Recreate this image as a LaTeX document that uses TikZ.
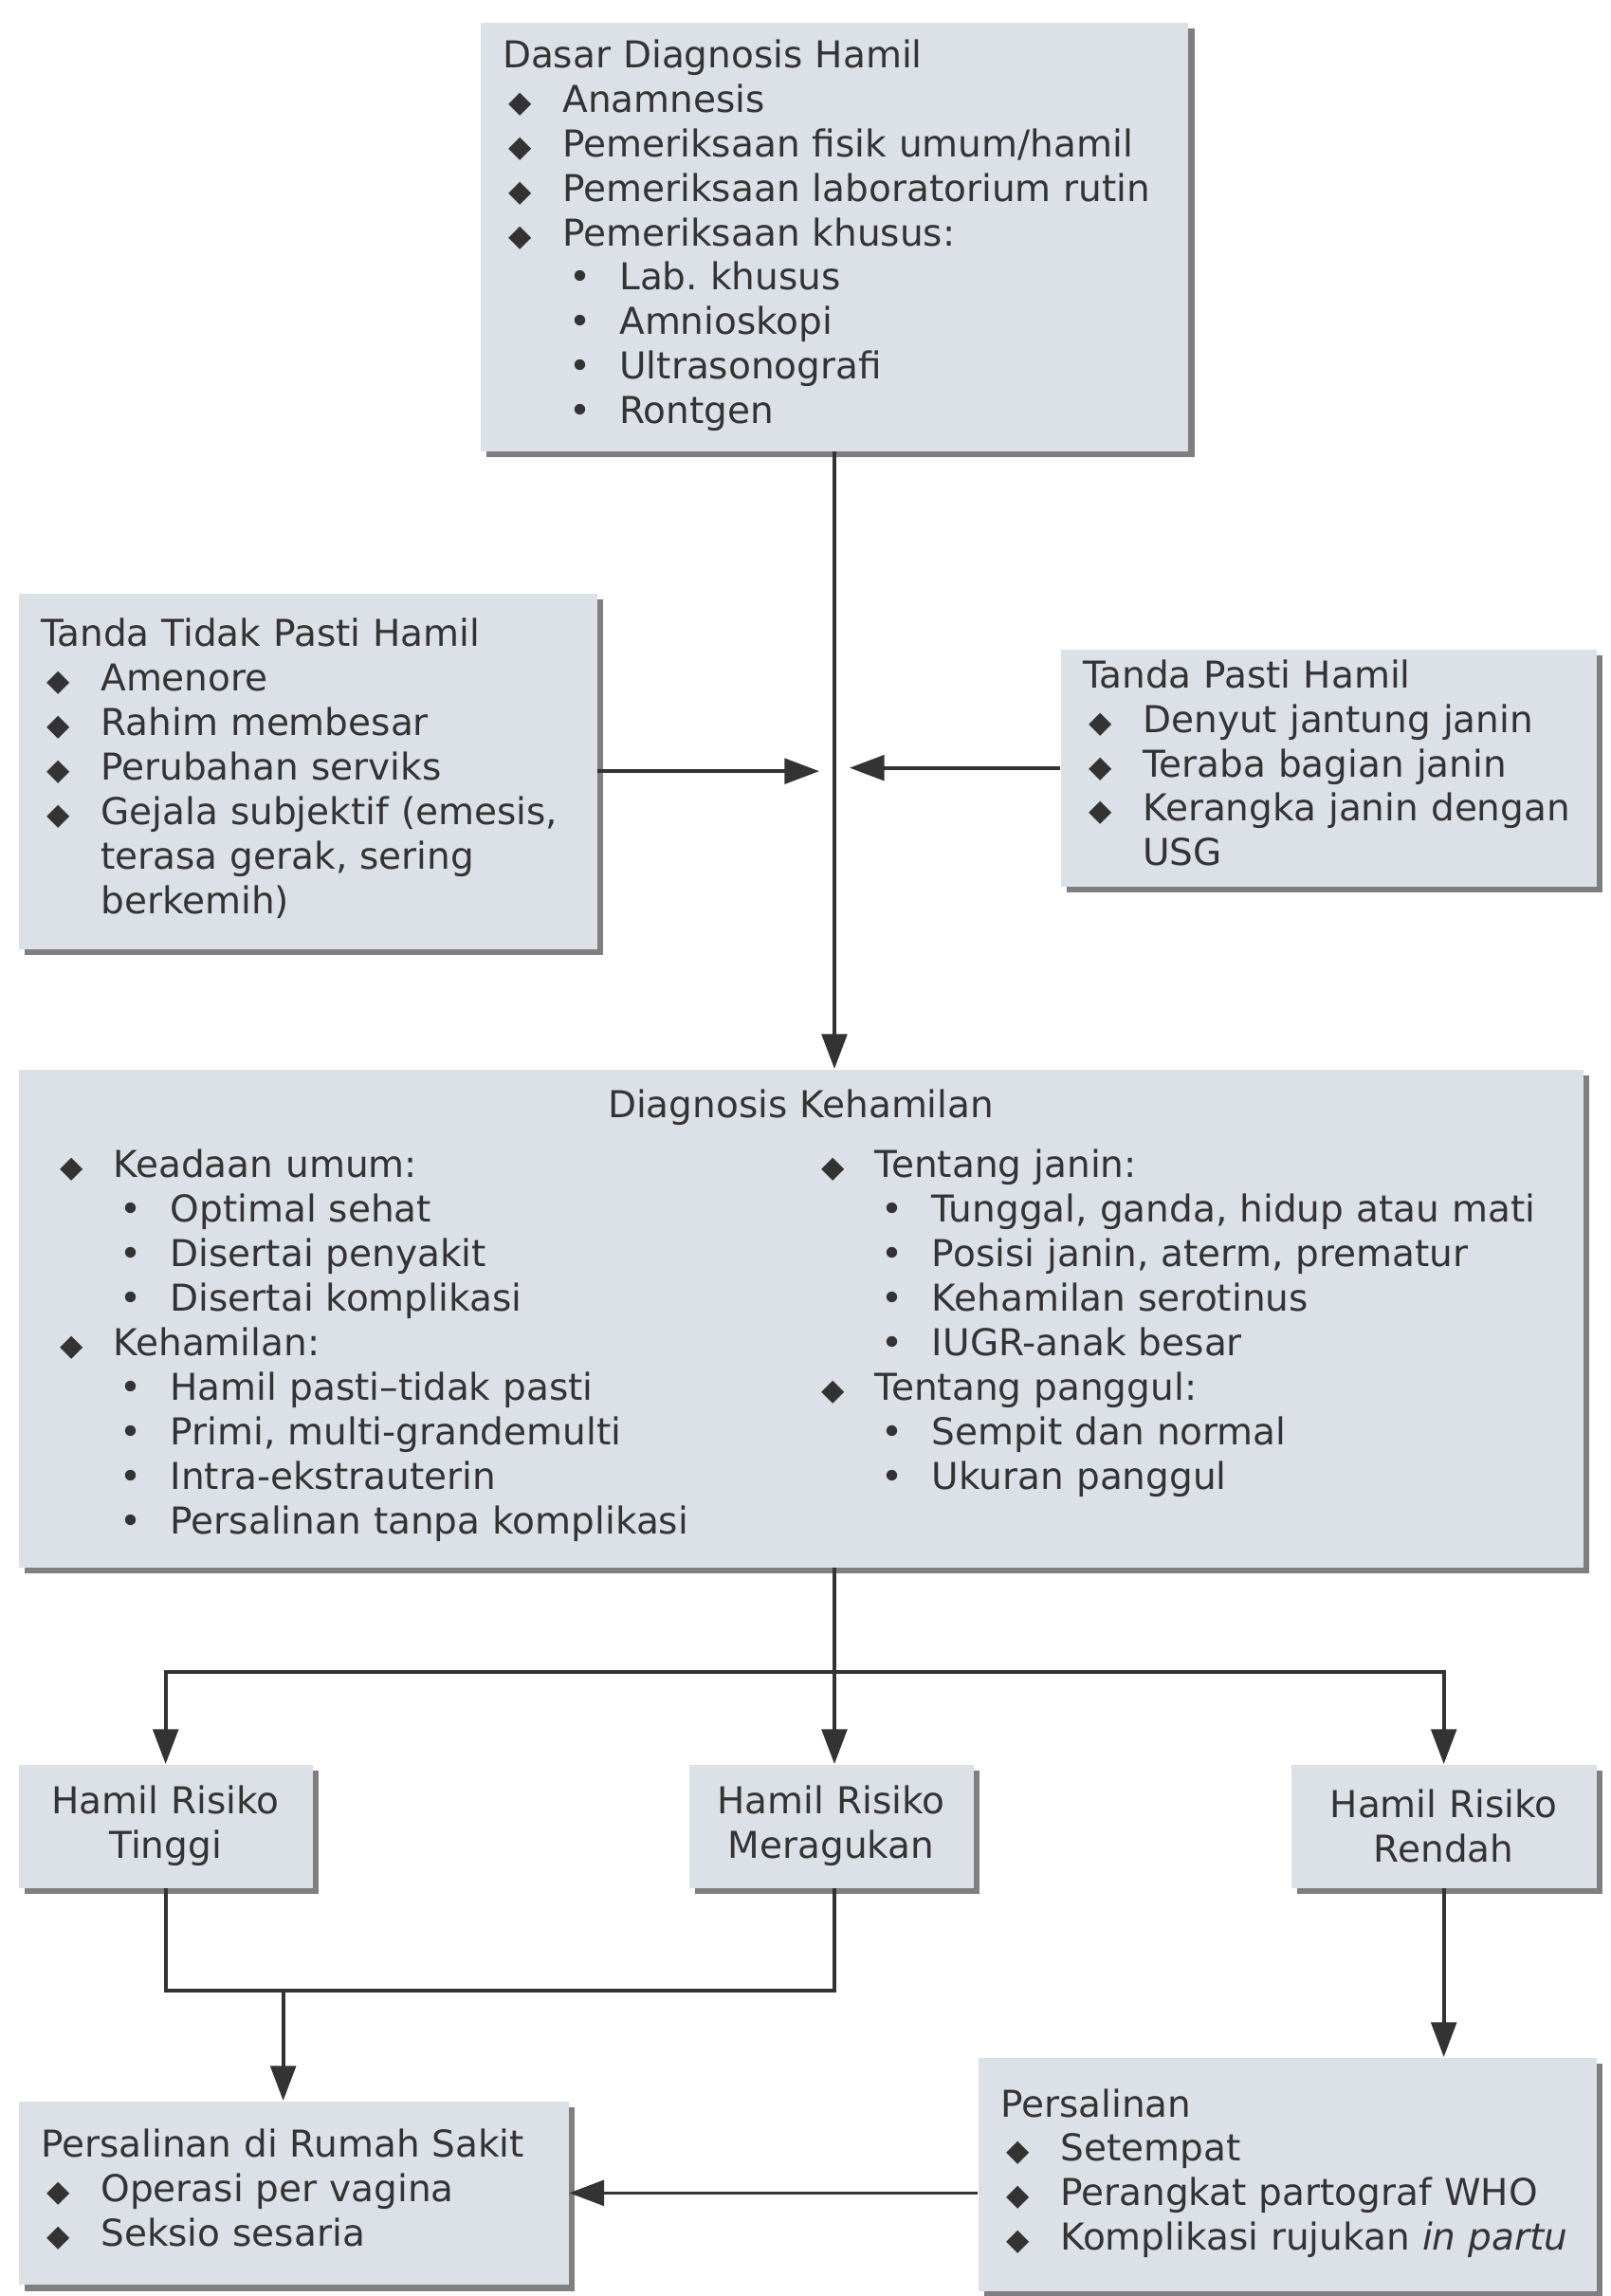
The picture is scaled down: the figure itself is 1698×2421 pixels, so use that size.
\documentclass[tikz,border=0pt]{standalone}
\usepackage{fontspec}
\setmainfont{DejaVu Sans}
\usetikzlibrary{arrows.meta,shadows}

\definecolor{boxfill}{HTML}{DCE0E7}
\definecolor{ink}{HTML}{333333}

% list lines
\newcommand{\dm}[1]{\hspace*{2pt}\makebox[17pt][l]{\fontsize{9.5}{10}\selectfont ◆}#1}
\newcommand{\bl}[1]{\hspace*{21pt}\makebox[16pt][l]{•}#1}
\newcommand{\cont}[1]{\hspace*{19pt}#1}
\newcommand{\rows}[1]{\begin{tabular}[t]{@{}l@{}}#1\end{tabular}}

\begin{document}
\frenchspacing
\begin{tikzpicture}[x=0.3pt,y=-0.3pt,
	panel/.style={fill=boxfill, drop shadow={shadow xshift=2pt,shadow yshift=-2pt,fill=black,opacity=0.5},
		inner xsep=7pt, inner ysep=2pt, anchor=north west, align=left, text=ink,
		font=\fontsize{11.7}{14.07}\selectfont},
	link/.style={draw=ink, line width=1.1pt},
	arr/.style={link, -{Triangle[length=11pt,width=8pt]}}]
	\fill[white] (0,0) rectangle (1698,2421);
	\useasboundingbox (0,0) rectangle (1698,2421);

	% top box and the two sign boxes
	\node[panel, text width=210pt, minimum height=135.6pt] (dasar) at (506,23) {\rows{Dasar Diagnosis Hamil\\
		\dm{Anamnesis}\\ \dm{Pemeriksaan fisik umum/hamil}\\ \dm{Pemeriksaan laboratorium rutin}\\ \dm{Pemeriksaan khusus:}\\
		\bl{Lab.\ khusus}\\ \bl{Amnioskopi}\\ \bl{Ultrasonografi}\\ \bl{Rontgen}}};
	\node[panel, text width=169pt, minimum height=112.5pt] (ttp) at (19,625) {\rows{Tanda Tidak Pasti Hamil\\
		\dm{Amenore}\\ \dm{Rahim membesar}\\ \dm{Perubahan serviks}\\ \dm{Gejala subjektif (emesis,}\\
		\cont{terasa gerak, sering}\\ \cont{berkemih)}}};
	\node[panel, text width=155.5pt, minimum height=75pt] (tp) at (1118,684) {\rows{Tanda Pasti Hamil\\
		\dm{Denyut jantung janin}\\ \dm{Teraba bagian janin}\\ \dm{Kerangka janin dengan}\\ \cont{USG}}};

	% diagnosis
	\node[panel, text width=481pt, minimum height=157.5pt] (dk) at (19,1127) {\makebox[\linewidth]{Diagnosis Kehamilan}\\[4.9pt]
		\hspace*{4pt}\makebox[241pt][l]{\rows{\dm{Keadaan umum:}\\ \bl{Optimal sehat}\\ \bl{Disertai penyakit}\\ \bl{Disertai komplikasi}\\
			\dm{Kehamilan:}\\ \bl{Hamil pasti--tidak pasti}\\ \bl{Primi, multi-grandemulti}\\ \bl{Intra-ekstrauterin}\\ \bl{Persalinan tanpa komplikasi}}}%
		\rows{\dm{Tentang janin:}\\ \bl{Tunggal, ganda, hidup atau mati}\\ \bl{Posisi janin, aterm, prematur}\\ \bl{Kehamilan serotinus}\\ \bl{IUGR-anak besar}\\
			\dm{Tentang panggul:}\\ \bl{Sempit dan normal}\\ \bl{Ukuran panggul}}};

	% risk groups
	\node[panel, align=center, text width=79pt, minimum height=39pt] (hrt) at (19,1860) {Hamil Risiko\\ Tinggi};
	\node[panel, align=center, text width=76pt, minimum height=39pt] (hrm) at (726,1860) {Hamil Risiko\\ Meragukan};
	\node[panel, align=center, text width=82.6pt, minimum height=39pt] (hrr) at (1361,1860) {Hamil Risiko\\ Rendah};

	% deliveries
	\node[panel, text width=160pt, minimum height=58pt] (prs) at (19,2215) {\rows{Persalinan di Rumah Sakit\\
		\dm{Operasi per vagina}\\ \dm{Seksio sesaria}}};
	\node[panel, text width=181.6pt, minimum height=74pt] (pst) at (1031,2169) {\rows{Persalinan\\
		\dm{Setempat}\\ \dm{Perangkat partograf WHO}\\ \dm{Komplikasi rujukan \textit{in partu}}}};

	% connectors
	\draw[arr] (dasar.south) -- (dasar.south |- dk.north);
	\draw[arr, shorten >=4.8pt] (ttp.east) -- (ttp.east -| dasar.south);
	\draw[arr, shorten >=4.8pt] (tp.west) -- (tp.west -| dasar.south);

	\coordinate (split) at (dasar.south |- 0,1763);
	\draw[link] (split |- dk.south) -- (split);
	\draw[arr] (split) -- (split |- hrm.north);
	\draw[arr] (split) -| (hrt.north);
	\draw[arr] (split) -| (hrr.north);

	\coordinate (join) at (hrt.south |- 0,2099);
	\draw[link] (hrt.south) -- (join) -| (split |- hrm.south);
	\draw[arr] ([xshift=-3.3pt]prs.north |- join) -- ([xshift=-3.3pt]prs.north);
	\draw[arr] (hrr.south) -- (hrr.south |- pst.north);
	\draw[arr] (pst.west |- prs.east) -- (prs.east);
\end{tikzpicture}
\end{document}
